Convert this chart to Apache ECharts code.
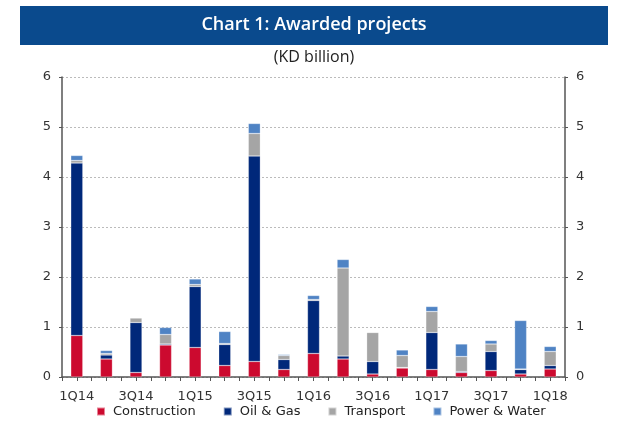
<!DOCTYPE html>
<html>
<head>
<meta charset="utf-8">
<script src="https://cdn.jsdelivr.net/npm/echarts@6/dist/echarts.min.js"></script>
<style>
  html, body { margin: 0; padding: 0; background: #fff; }
  #chart { width: 618px; height: 423px; }
</style>
</head>
<body>
<div id="chart"></div>
<script>
const quarters = ['1Q14', '2Q14', '3Q14', '4Q14', '1Q15', '2Q15', '3Q15', '4Q15', '1Q16',
  '2Q16', '3Q16', '4Q16', '1Q17', '2Q17', '3Q17', '4Q17', '1Q18']
const construction = [0.83, 0.36, 0.09, 0.64, 0.59, 0.23, 0.31, 0.15, 0.47, 0.36, 0.06, 0.18, 0.15, 0.09, 0.13, 0.06, 0.16]
const oilGas = [3.45, 0.08, 1.00, 0.02, 1.22, 0.42, 4.11, 0.20, 1.06, 0.06, 0.25, 0.01, 0.74, 0.02, 0.38, 0.09, 0.07]
const transport = [0.05, 0.03, 0.09, 0.19, 0.04, 0.02, 0.45, 0.08, 0.02, 1.76, 0.58, 0.24, 0.42, 0.30, 0.15, 0.01, 0.28]
const powerWater = [0.10, 0.06, 0.01, 0.14, 0.11, 0.24, 0.20, 0.02, 0.08, 0.17, 0.01, 0.11, 0.10, 0.25, 0.07, 0.97, 0.10]
const yTicks = [0, 1, 2, 3, 4, 5, 6]

const font = 'DejaVu Sans'
const colors = ['#cc0a2f', '#00287a', '#a5a5a5', '#4f83c4']

const chart = echarts.init(document.getElementById('chart'))

function bar (name, data) {
  return {
    name,
    type: 'bar',
    stack: 'total',
    barWidth: 12,
    data,
    itemStyle: { borderColor: 'rgba(255,255,255,0.5)', borderWidth: 0.5 }
  }
}

const yAxisBase = {
  type: 'value',
  min: 0,
  max: yTicks[yTicks.length - 1],
  interval: 1,
  axisLine: { show: true, lineStyle: { color: '#555', width: 1.5 } },
  axisTick: { show: true, length: 3, lineStyle: { color: '#555' } },
  axisLabel: { color: '#333', fontSize: 13, fontFamily: font, margin: 11 },
  splitLine: { show: true, lineStyle: { color: '#bbb', type: [2, 2] } }
}

chart.setOption({
  animation: false,
  color: colors,
  graphic: [
    { type: 'rect', shape: { x: 20, y: 6, width: 588, height: 39 }, style: { fill: '#0a4a8d' } },
    {
      type: 'text', x: 314, y: 25,
      style: { text: 'Chart 1: Awarded projects', fill: '#fff', font: '600 18px "Open Sans"', align: 'center', verticalAlign: 'middle' }
    },
    {
      type: 'text', x: 314, y: 57,
      style: { text: '(KD billion)', fill: '#222', font: '16px "Open Sans"', align: 'center', verticalAlign: 'middle' }
    }
  ],
  grid: { left: 62, right: 53, top: 77, bottom: 46 },
  legend: {
    bottom: 0,
    left: 91,
    itemWidth: 8,
    itemHeight: 8,
    itemGap: 27,
    icon: 'rect',
    textStyle: { color: '#222', fontSize: 13, fontFamily: font, padding: [0, 0, 0, 3] },
    data: ['Construction', 'Oil & Gas', 'Transport', 'Power & Water']
  },
  xAxis: [{
    type: 'category',
    data: quarters,
    axisLine: { lineStyle: { color: '#555', width: 1.5 } },
    axisTick: { show: true, interval: 0, length: 4, lineStyle: { color: '#555' } },
    axisLabel: { interval: 1, color: '#333', fontSize: 13, fontFamily: font, margin: 13 }
  }, {
    type: 'category',
    data: quarters,
    position: 'bottom',
    axisLine: { show: false },
    axisTick: { show: true, alignWithLabel: true, interval: 0, length: 4, lineStyle: { color: '#555' } },
    axisLabel: { show: false }
  }],
  yAxis: [
    Object.assign({}, yAxisBase, { position: 'left' }),
    Object.assign({}, yAxisBase, { position: 'right', splitLine: { show: false } })
  ],
  series: [
    bar('Construction', construction),
    bar('Oil & Gas', oilGas),
    bar('Transport', transport),
    bar('Power & Water', powerWater)
  ]
})
</script>
</body>
</html>
